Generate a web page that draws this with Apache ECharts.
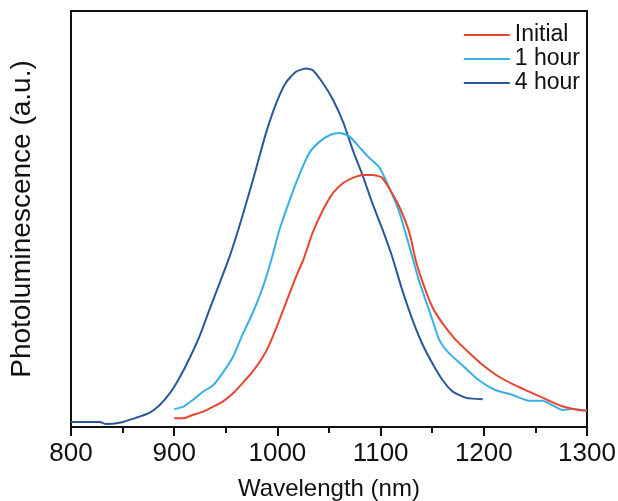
<!DOCTYPE html>
<html>
<head>
<meta charset="utf-8">
<script src="https://cdn.jsdelivr.net/npm/echarts@6/dist/echarts.min.js"></script>
<style>html,body{margin:0;padding:0;background:#fff}#c{width:618px;height:501px}</style>
</head>
<body>
<div id="c"></div>
<script>
const seriesNames = ['Initial', '1 hour', '4 hour'];
const seriesColors = ['#e8452f', '#39b0e3', '#2b5899'];
const xTicks = [800, 900, 1000, 1100, 1200, 1300];

const initialData = [
  [900,2.1],[909,2.1],[918,2.9],[928,3.7],[938,4.9],[947,6.1],[957,8.1],[966,10.5],[976,13.3],
  [986,16.9],[992,19.7],[1000,24.5],[1010,31.0],[1020,37.3],[1025,40.1],[1034,46.6],[1044,52.1],
  [1054,56.3],[1064,58.7],[1073,59.9],[1083,60.6],[1092,60.6],[1101,60.0],[1108,57.5],[1118,53.0],
  [1128,46.6],[1134,40.1],[1140,35.3],[1150,28.9],[1160,24.9],[1173,20.9],[1186,17.8],[1199,14.9],
  [1212,12.5],[1228,10.3],[1244,8.5],[1260,6.7],[1276,5.0],[1292,4.1],[1300,3.9]
];
const oneHourData = [
  [900,4.3],[909,4.9],[918,6.5],[928,8.5],[938,10.1],[947,13.0],[957,16.9],[966,22.1],[976,27.4],
  [986,33.7],[994,40.1],[1002,47.4],[1012,54.6],[1022,61.1],[1031,65.9],[1041,68.6],[1051,70.2],
  [1060,70.7],[1070,69.8],[1080,67.1],[1089,64.7],[1099,62.3],[1108,57.7],[1118,51.7],[1128,43.3],
  [1137,35.3],[1147,28.1],[1157,20.9],[1166,17.8],[1179,14.9],[1195,11.3],[1211,8.9],[1228,7.7],
  [1244,6.3],[1257,6.3],[1266,5.3],[1276,4.1],[1286,4.3],[1300,3.9]
];
const fourHourData = [
  [800,1.2],[828,1.2],[834,0.7],[847,1.0],[863,2.2],[876,3.4],[886,5.3],[896,8.2],[905,11.8],
  [915,16.6],[925,22.1],[934,28.1],[944,34.6],[954,41.2],[966,50.6],[979,61.8],[989,70.7],
  [999,77.9],[1008,82.7],[1018,85.4],[1028,86.2],[1034,85.8],[1044,82.7],[1054,78.6],[1064,73.1],
  [1073,66.6],[1083,60.2],[1092,53.8],[1102,47.4],[1111,41.1],[1121,32.9],[1131,25.7],[1140,20.2],
  [1150,15.4],[1160,11.3],[1170,8.5],[1183,7.0],[1199,6.7]
];
const allData = [initialData, oneHourData, fourHourData];

const chart = echarts.init(document.getElementById('c'), null, {renderer: 'canvas'});
const font = 'Liberation Sans, Arial, sans-serif';
chart.setOption({
  animation: false,
  backgroundColor: '#fff',
  grid: {left: 71, right: 31, top: 11, bottom: 74, containLabel: false, outerBoundsMode: 'none',
         show: true, borderColor: '#111', borderWidth: 2, backgroundColor: 'transparent'},
  legend: {
    orient: 'vertical', right: 38, top: 23, padding: 0, itemGap: 0, align: 'left',
    icon: 'rect', itemWidth: 46, itemHeight: 2,
    textStyle: {fontFamily: font, fontSize: 23, color: '#111', lineHeight: 24},
    data: seriesNames
  },
  xAxis: {
    type: 'value', min: xTicks[0], max: xTicks[xTicks.length - 1], interval: 100,
    name: 'Wavelength (nm)', nameLocation: 'middle', nameGap: 50,
    nameTextStyle: {fontFamily: font, fontSize: 24, color: '#111'},
    axisLine: {show: true, lineStyle: {color: '#111', width: 2}},
    axisTick: {show: true, inside: false, length: 9, lineStyle: {color: '#111', width: 2}},
    minorTick: {show: true, splitNumber: 2, length: 6, lineStyle: {color: '#111', width: 2}},
    axisLabel: {fontFamily: font, fontSize: 26, color: '#111', margin: 14, formatter: v => String(v)},
    splitLine: {show: false}
  },
  yAxis: {
    type: 'value', min: 0, max: 100,
    name: 'Photoluminescence (a.u.)', nameLocation: 'middle', nameGap: 35, nameRotate: 90,
    nameTextStyle: {fontFamily: font, fontSize: 28, color: '#111'},
    axisLine: {show: true, lineStyle: {color: '#111', width: 2}},
    axisTick: {show: false}, axisLabel: {show: false}, splitLine: {show: false}
  },
  series: seriesNames.map((n, i) => ({
    name: n, type: 'line', data: allData[i], showSymbol: false, symbol: 'none', smooth: 0.2,
    color: seriesColors[i], lineStyle: {width: 2, color: seriesColors[i]}, z: 3 - i
  }))
});
</script>
</body>
</html>
